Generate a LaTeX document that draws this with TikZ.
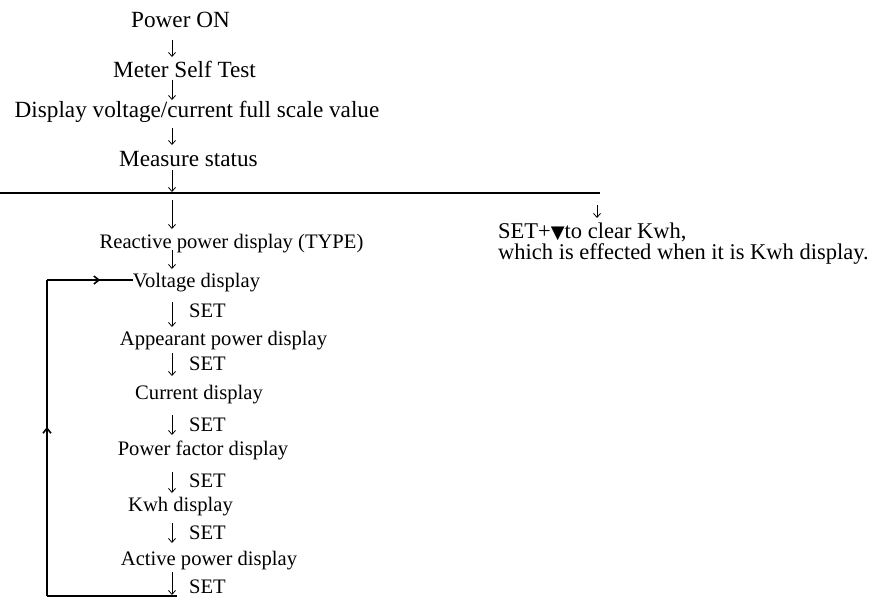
\documentclass[tikz,border=0pt]{standalone}
\usepackage{fontspec}
\setmainfont{Liberation Serif}
\newfontfamily\symfont{DejaVu Sans}
\usetikzlibrary{arrows.meta,calc,decorations.markings}
\begin{document}
\begin{tikzpicture}[x=1pt,y=-1pt,
  big/.style={font=\fontsize{23.2}{27}\selectfont, inner sep=0pt, anchor=base},
  small/.style={font=\fontsize{20.6}{24}\selectfont, inner sep=0pt, anchor=base},
  setlbl/.style={font=\fontsize{20.6}{24}\selectfont, inner sep=0pt, anchor=base west},
  note/.style={font=\fontsize{22.5}{26}\selectfont, inner sep=0pt, anchor=base west},
  flow/.style={line width=0.8pt, -{Straight Barb[length=4pt,width=7pt]}},
  rulel/.style={line width=1.3pt},
  loopl/.style={line width=1.6pt},
  midarrow/.style={postaction={decorate}, decoration={markings,
     mark=at position #1 with {\arrow{Straight Barb[length=5pt,width=8pt]}}}}]
\useasboundingbox (0,0) rectangle (886,603);

% axis of the arrows
\coordinate (ax) at (172,0);

% top chain
\node[big] (pon) at (180.5,27) {Power ON};
\node[big] (mst) at (184.5,77) {Meter Self Test};
\node[big] (dsp) at (197,117) {Display voltage/current full scale value};
\node[big] (mes) at (188.5,166) {Measure status};

% horizontal rule
\coordinate (hl0) at (0,193);
\coordinate (hl1) at (600,193);
\draw[rulel] (hl0) -- (hl1);

% lower chain
\node[small] (rea) at (231.5,248) {Reactive power display (TYPE)};
\node[small] (vol) at (196.5,287) {Voltage display};
\node[small] (app) at (223.5,345) {Appearant power display};
\node[small] (cur) at (199,399) {Current display};
\node[small] (pf)  at (203,455) {Power factor display};
\node[small] (kwh) at (180.5,511) {Kwh display};
\node[small] (act) at (209,565) {Active power display};

% SET labels
\node[setlbl] (s1) at (189,317) {SET};
\node[setlbl] (s2) at (189,370) {SET};
\node[setlbl] (s3) at (189,431) {SET};
\node[setlbl] (s4) at (189,487) {SET};
\node[setlbl] (s5) at (189,539) {SET};
\node[setlbl] (s6) at (189,593) {SET};

% right note
\node[note] (clr1) at (498,238) {SET+\raisebox{-0.5pt}{\symfont\fontsize{18}{18}\selectfont ▼}to clear Kwh,};
\node[note] (clr2) at (498,259) {which is effected when it is Kwh display.};
\coordinate (hr) at (597,193);

% arrows of the chain
\draw[flow] ($(pon.base -| ax)+(0,13)$) -- ($(mst.base -| ax)+(0,-20)$);
\draw[flow] ($(mst.base -| ax)+(0,3)$) -- ($(dsp.base -| ax)+(0,-17)$);
\draw[flow] ($(dsp.base -| ax)+(0,11)$) -- ($(mes.base -| ax)+(0,-21)$);
\draw[flow] ($(mes.base -| ax)+(0,4)$) -- ($(hl0 -| ax)+(0,-1)$);
\draw[flow] ($(hl0 -| ax)+(0,7)$) -- ($(rea.base -| ax)+(0,-19)$);
\draw[flow] ($(rea.base -| ax)+(0,2)$) -- ($(vol.base -| ax)+(0,-18)$);
\draw[flow] ($(vol.base -| ax)+(0,15)$) -- ($(app.base -| ax)+(0,-18)$);
\draw[flow] ($(app.base -| ax)+(0,8)$) -- ($(cur.base -| ax)+(0,-23)$);
\draw[flow] ($(cur.base -| ax)+(0,16)$) -- ($(pf.base -| ax)+(0,-20)$);
\draw[flow] ($(pf.base -| ax)+(0,17)$) -- ($(kwh.base -| ax)+(0,-18)$);
\draw[flow] ($(kwh.base -| ax)+(0,12)$) -- ($(act.base -| ax)+(0,-22)$);
\coordinate (lb) at (177,596);
\draw[flow] ($(act.base -| ax)+(0,7)$) -- ($(lb -| ax)+(0,-1)$);

% right arrow
\draw[flow] ($(hr)+(0,12)$) -- ($(hr)+(0,25)$);

% loop back
\coordinate (lc) at (47,596);
\coordinate (lt) at (47,280);
\draw[loopl] (lb) -- (lc);
\draw[loopl, midarrow=0.535] (lc) -- (lt);
\draw[loopl, midarrow=0.62] (lt) -- (vol.west |- lt);
\end{tikzpicture}
\end{document}
